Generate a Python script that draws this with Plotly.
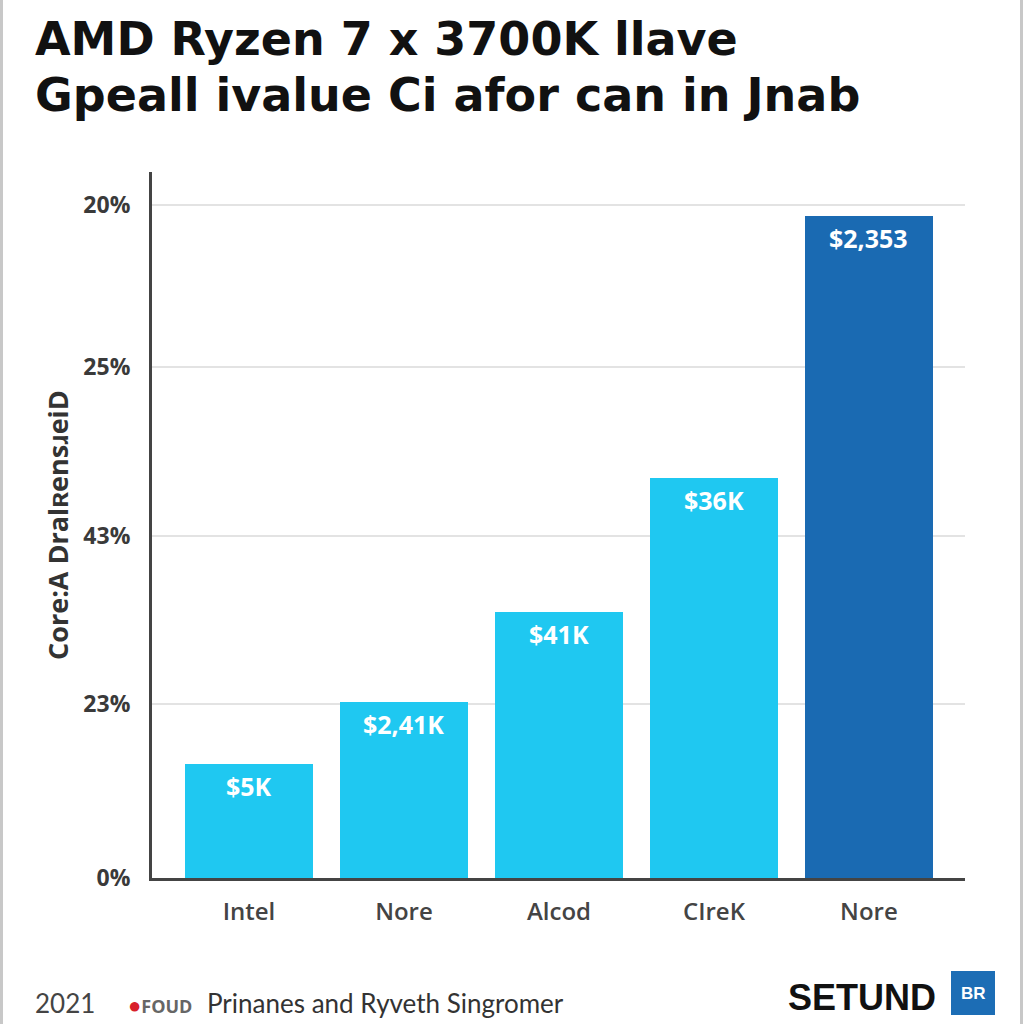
import plotly.graph_objects as go

# ---- data ----
categories = ["Intel", "Nore", "Alcod", "CIreK", "Nore"]
values = [0.678, 1.046, 1.581, 2.377, 3.935]
bar_labels = ["$5K", "$2,41K", "$41K", "$36K", "$2,353"]
bar_colors = ["#1FC8F1", "#1FC8F1", "#1FC8F1", "#1FC8F1", "#1A6AB2"]
y_tickvals = [0, 1.034, 2.033, 3.037, 4.0]
y_ticktext = ["0%", "23%", "43%", "25%", "20%"]
title_lines = ["AMD Ryzen 7 x 3700K llave", "Gpeall ivalue Ci afor can in Jnab"]
y_title = "Core:A DralʀensɹeiD"

W, H = 1024, 1024
L, R, T, B = 152, 965, 172, 878

def px(xp):
    return (xp - L) / (R - L)

def py(yp):
    return (B - yp) / (B - T)

xs = list(range(len(categories)))

fig = go.Figure()
fig.add_trace(go.Bar(
    x=xs, y=values, width=0.826,
    marker=dict(color=bar_colors, line=dict(width=0)),
    hoverinfo="skip",
))

annotations = []
for xi, v, lab in zip(xs, values, bar_labels):
    annotations.append(dict(
        x=xi, y=v, xref="x", yref="y", text=f"<b>{lab}</b>", showarrow=False,
        yanchor="top", yshift=-3, font=dict(family="Open Sans, Liberation Sans, Arial", size=25, color="white"),
    ))

# title
for i, line in enumerate(title_lines):
    annotations.append(dict(
        x=px(33), y=py(39 + i * 56), xref="paper", yref="paper", text=f"<b>{line}</b>",
        showarrow=False, xanchor="left", yanchor="middle",
        font=dict(family="DejaVu Sans", size=46, color="#111111"),
    ))

# y title
annotations.append(dict(
    x=px(57), y=py(525), xref="paper", yref="paper", text=f"<b>{y_title}</b>",
    showarrow=False, textangle=-90, xanchor="center", yanchor="middle",
    font=dict(family="Open Sans, Liberation Sans, Arial", size=27, color="#333333"),
))

# footer
annotations += [
    dict(x=px(33), y=py(1003), xref="paper", yref="paper", text="2021", showarrow=False,
         xanchor="left", yanchor="middle", font=dict(family="Lato, Open Sans", size=26, color="#444444")),
    dict(x=px(126), y=py(1004), xref="paper", yref="paper",
         text="<span style='color:#d8202a;font-size:22px'>●</span><b>FOUD</b>", showarrow=False,
         xanchor="left", yanchor="middle", font=dict(family="Open Sans, Liberation Sans", size=18, color="#666666")),
    dict(x=px(205), y=py(1003), xref="paper", yref="paper", text="Prinanes and Ryveth Singromer", showarrow=False,
         xanchor="left", yanchor="middle", font=dict(family="Lato, Open Sans", size=26, color="#333333")),
    dict(x=px(938), y=py(998), xref="paper", yref="paper", text="<b>SETUND</b>", showarrow=False,
         xanchor="right", yanchor="middle", font=dict(family="Liberation Sans, Arial", size=36, color="#111111")),
    dict(x=px(973), y=py(993), xref="paper", yref="paper", text="<b>BR</b>", showarrow=False,
         xanchor="center", yanchor="middle",
         font=dict(family="Liberation Sans, Arial", size=17, color="white")),
]

fig.update_layout(
    width=W, height=H,
    margin=dict(l=L, r=W - R, t=T, b=H - B),
    paper_bgcolor="white", plot_bgcolor="white",
    showlegend=False,
    annotations=annotations,
    bargap=0,
    xaxis=dict(
        range=[-0.626, 4.62], tickmode="array", tickvals=xs, ticktext=categories,
        showgrid=False, zeroline=False, showline=True, linecolor="#444444", linewidth=3,
        ticks="", ticklabelstandoff=10,
        tickfont=dict(family="Open Sans, Liberation Sans", size=24, color="#444444", weight=600),
        fixedrange=True,
    ),
    yaxis=dict(
        range=[0, 4.196], tickmode="array", tickvals=y_tickvals,
        ticktext=[f"<b>{t}</b>" for t in y_ticktext],
        showgrid=True, gridcolor="#e3e3e3", gridwidth=2, zeroline=False,
        showline=True, linecolor="#444444", linewidth=3, ticks="", ticklabelstandoff=14,
        tickfont=dict(family="Open Sans, Liberation Sans", size=23, color="#3a3a3a"),
        fixedrange=True,
    ),
    shapes=[
        dict(type="line", xref="paper", yref="paper", x0=px(1.5), x1=px(1.5), y0=py(0), y1=py(1024),
             line=dict(color="#c8c8c8", width=3)),
        dict(type="line", xref="paper", yref="paper", x0=px(1021.5), x1=px(1021.5), y0=py(0), y1=py(1024),
             line=dict(color="#c8c8c8", width=3)),
        dict(type="rect", xref="paper", yref="paper", x0=px(951), x1=px(995), y0=py(971), y1=py(1015),
             fillcolor="#1C6DB5", line=dict(width=0), layer="below"),
    ],
)

fig.write_html("out.html", config={"displayModeBar": False},
               post_script="document.body.style.margin='0';document.body.style.padding='0';")
